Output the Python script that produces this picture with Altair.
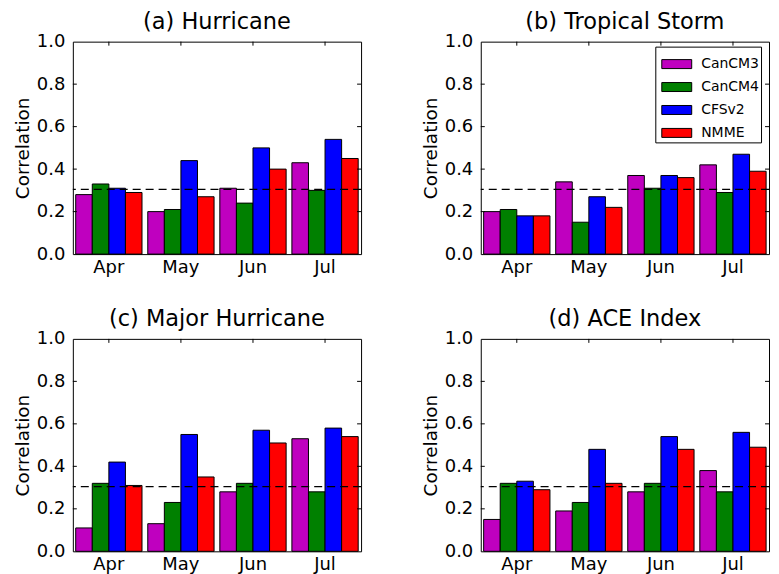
import altair as alt
import pandas as pd

months = ["Apr", "May", "Jun", "Jul"]
models = ["CanCM3", "CanCM4", "CFSv2", "NMME"]
colors = ["#bf00bf", "#008000", "#0000ff", "#ff0000"]

# (a) Hurricane
hur_cancm3 = [0.28, 0.20, 0.31, 0.43]
hur_cancm4 = [0.33, 0.21, 0.24, 0.30]
hur_cfsv2 = [0.31, 0.44, 0.50, 0.54]
hur_nmme = [0.29, 0.27, 0.40, 0.45]

# (b) Tropical Storm
ts_cancm3 = [0.20, 0.34, 0.37, 0.42]
ts_cancm4 = [0.21, 0.15, 0.31, 0.29]
ts_cfsv2 = [0.18, 0.27, 0.37, 0.47]
ts_nmme = [0.18, 0.22, 0.36, 0.39]

# (c) Major Hurricane
mh_cancm3 = [0.11, 0.13, 0.28, 0.53]
mh_cancm4 = [0.32, 0.23, 0.32, 0.28]
mh_cfsv2 = [0.42, 0.55, 0.57, 0.58]
mh_nmme = [0.31, 0.35, 0.51, 0.54]

# (d) ACE Index
ace_cancm3 = [0.15, 0.19, 0.28, 0.38]
ace_cancm4 = [0.32, 0.23, 0.32, 0.28]
ace_cfsv2 = [0.33, 0.48, 0.54, 0.56]
ace_nmme = [0.29, 0.32, 0.48, 0.49]

threshold = 0.305
y_ticks = [0.0, 0.2, 0.4, 0.6, 0.8, 1.0]
inner_ticks = [0.2, 0.4, 0.6, 0.8]

W, H = 289, 213
FONT = "DejaVu Sans"


def make_df(series):
    rows = []
    for model, vals in zip(models, series):
        for m, v in zip(months, vals):
            rows.append({"month": m, "model": model, "value": v})
    return pd.DataFrame(rows)


def panel(title, series, show_legend=False):
    df = make_df(series)
    xenc = alt.X(
        "month:N",
        sort=months,
        scale=alt.Scale(paddingInner=0.08, paddingOuter=0.04),
        axis=alt.Axis(title=None, labelAngle=0, ticks=False, tickSize=0,
                      domain=False, labelPadding=4, labelFontSize=18),
    )
    yenc = alt.Y(
        "value:Q",
        scale=alt.Scale(domain=[0, 1], nice=False),
        axis=alt.Axis(title="Correlation", values=y_ticks, format=".1f",
                      ticks=False, tickSize=0, domain=False, labelPadding=8,
                      labelFontSize=18, titleFontSize=18.5, titlePadding=4,
                      titleFontWeight="normal"),
    )
    if show_legend:
        leg = alt.Legend(
            title=None, orient="none", legendX=175, legendY=5,
            direction="vertical",
            strokeColor="black", fillColor="white", padding=2,
            symbolOffset=4,
            symbolType="M-1,-0.3H1V0.3H-1Z", symbolSize=900,
            symbolStrokeColor="black", symbolStrokeWidth=1,
            labelFontSize=14, labelFont=FONT, labelColor="black",
            labelOffset=9, rowPadding=0,
        )
    else:
        leg = None
    bars = alt.Chart(df).mark_bar(stroke="black", strokeWidth=1).encode(
        x=xenc,
        xOffset=alt.XOffset("model:N", sort=models,
                            scale=alt.Scale(paddingInner=0, paddingOuter=0)),
        y=yenc,
        color=alt.Color("model:N", sort=models,
                        scale=alt.Scale(domain=models, range=colors),
                        legend=leg),
    )
    dash = alt.Chart(pd.DataFrame({"value": [threshold]})).mark_rule(
        color="black", strokeWidth=1.3, strokeDash=[8, 5]
    ).encode(y="value:Q")
    tdf = pd.DataFrame({"value": inner_ticks})
    left_t = alt.Chart(tdf).mark_rule(color="black").encode(
        y="value:Q", x=alt.value(0), x2=alt.value(4))
    right_t = alt.Chart(tdf).mark_rule(color="black").encode(
        y="value:Q", x=alt.value(W - 4), x2=alt.value(W))
    mdf = pd.DataFrame({"month": months})
    top_t = alt.Chart(mdf).mark_rule(color="black").encode(
        x=alt.X("month:N", sort=months, bandPosition=0.5),
        y=alt.value(0), y2=alt.value(4))
    return alt.layer(bars, dash, left_t, right_t, top_t).properties(
        width=W, height=H, title=title)


pa = panel("(a) Hurricane", [hur_cancm3, hur_cancm4, hur_cfsv2, hur_nmme])
pb = panel("(b) Tropical Storm", [ts_cancm3, ts_cancm4, ts_cfsv2, ts_nmme], True)
pc = panel("(c) Major Hurricane", [mh_cancm3, mh_cancm4, mh_cfsv2, mh_nmme])
pd_ = panel("(d) ACE Index", [ace_cancm3, ace_cancm4, ace_cfsv2, ace_nmme])

chart = alt.concat(
    pa, pb, pc, pd_, columns=2,
    spacing={"row": 85, "column": 120}, bounds="flush",
).resolve_scale(color="independent").resolve_legend(color="independent").properties(
    padding={"left": 4, "top": 2, "right": 0, "bottom": 0}
).configure_view(
    stroke="black", strokeWidth=1
).configure_axis(
    grid=False, labelFont=FONT, titleFont=FONT, labelColor="black",
    titleColor="black"
).configure_legend(
    labelFont=FONT, labelFontSize=14
).configure_title(
    font=FONT, fontSize=22.5, fontWeight="normal", color="black",
    baseline="alphabetic", offset=-1, anchor="middle", frame="group"
)

chart.save("out.html", embed_options={"renderer": "svg", "actions": False})
